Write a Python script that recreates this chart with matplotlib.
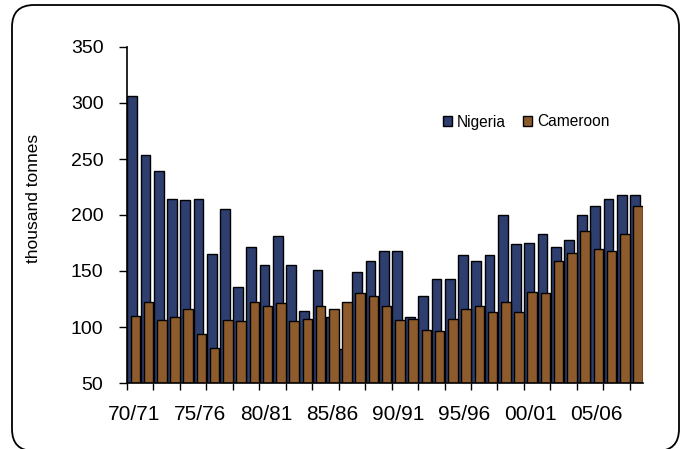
import numpy as np
import matplotlib
matplotlib.use("Agg")
import matplotlib.pyplot as plt
from matplotlib.patches import FancyBboxPatch
from matplotlib.transforms import IdentityTransform

plt.rcParams['font.family'] = ['Liberation Sans', 'DejaVu Sans']

# seasons 70/71 .. 08/09
seasons = ["%02d/%02d" % (y % 100, (y + 1) % 100) for y in range(1970, 2009)]

nigeria = [306, 254, 239, 214, 213, 214, 165, 205, 136, 171,
           155, 181, 155, 114, 151, 109, 80, 149, 159, 168,
           168, 109, 128, 143, 143, 164, 159, 164, 200, 174,
           175, 183, 171, 178, 200, 208, 214, 218, 218]
cameroon = [110, 122, 106, 109, 116, 94, 81, 106, 105, 122,
            119, 121, 105, 107, 119, 116, 122, 130, 128, 119,
            106, 107, 97, 96, 107, 116, 119, 113, 122, 113,
            131, 130, 159, 166, 186, 170, 168, 183, 208]

NIG_COLOR = "#2E3F6F"
CAM_COLOR = "#8E5B2C"

fig = plt.figure(figsize=(6.84, 4.49), dpi=100)
ax = fig.add_axes([127/684, 1-383/449, 516/684, 336/449])

x = np.arange(len(seasons))
ax.bar(x - 0.10, nigeria, width=0.74, color=NIG_COLOR, edgecolor="black",
       linewidth=1.0, label="Nigeria", zorder=2)
ax.bar(x + 0.13, cameroon, width=0.72, color=CAM_COLOR, edgecolor="black",
       linewidth=1.0, label="Cameroon", zorder=3)

ax.set_ylim(50, 350)
ax.set_xlim(-0.5, len(seasons) - 0.5)
ax.set_yticks(range(50, 351, 50))
ax.tick_params(axis="y", direction="out", length=6, width=1, pad=11,
               labelsize=14)

# tick marks every 2 categories, labels every 5
ax.set_xticks(np.arange(-0.5, len(seasons) - 0.5, 2))
ax.set_xticklabels([])
ax.tick_params(axis="x", which="major", direction="out", length=5, width=1)
ax.set_xticks(x[::5], minor=True)
ax.set_xticklabels(seasons[::5], minor=True)
ax.tick_params(axis="x", which="minor", length=0, pad=16, labelsize=15)

for s in ["top", "right"]:
    ax.spines[s].set_visible(False)
for s in ["left", "bottom"]:
    ax.spines[s].set_linewidth(1.2)
    ax.spines[s].set_zorder(5)

ax.set_ylabel("thousand tonnes", fontsize=12.5)
ax.yaxis.set_label_coords(-0.167, 0.55)

ax.legend(loc="center left", bbox_to_anchor=(443/684, 1-122/449),
          bbox_transform=fig.transFigure, frameon=False, ncol=2,
          fontsize=11.2, handlelength=0.6, handleheight=0.6,
          handletextpad=0.3, columnspacing=1.1, borderpad=0,
          borderaxespad=0)

# rounded outer frame
frame = FancyBboxPatch((12, -2), 667, 446,
                       boxstyle="round,pad=0,rounding_size=22",
                       transform=IdentityTransform(), facecolor="none",
                       edgecolor="black", linewidth=1.3)
fig.patches.append(frame)

fig.savefig("out.png", dpi=100)
